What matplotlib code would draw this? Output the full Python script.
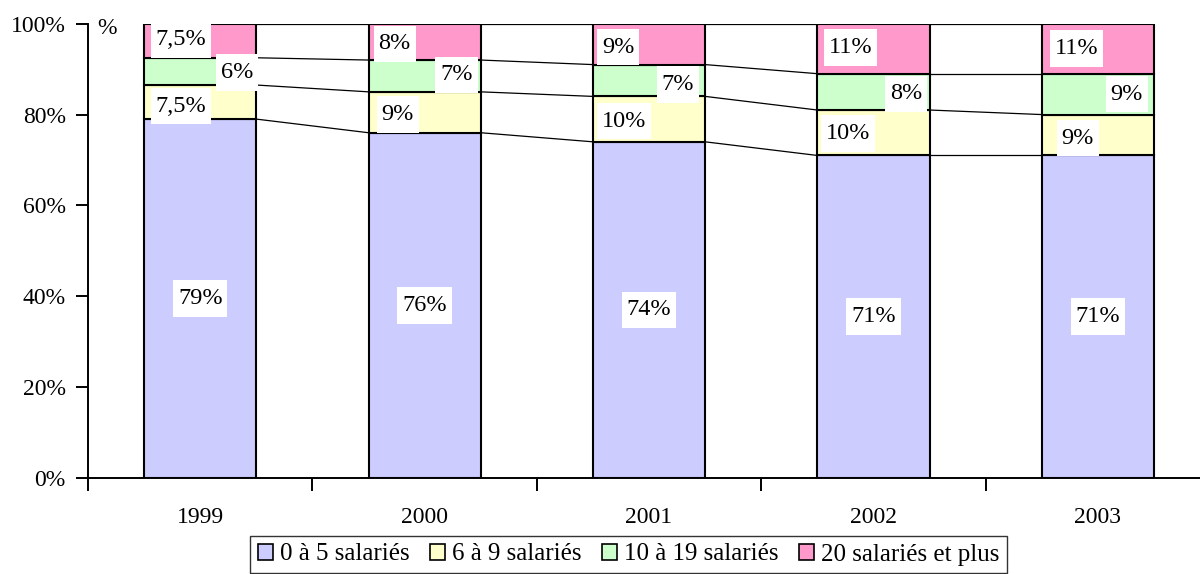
import matplotlib
matplotlib.use("Agg")
import matplotlib.pyplot as plt
from matplotlib.patches import Patch
from matplotlib.path import Path
import numpy as np

plt.rcParams['font.family'] = ['Liberation Serif', 'DejaVu Serif']

years = ["1999", "2000", "2001", "2002", "2003"]
series_names = ["0 à 5 salariés", "6 à 9 salariés", "10 à 19 salariés", "20 salariés et plus"]
s0_5 = [79, 76, 74, 71, 71]
s6_9 = [7.5, 9, 10, 10, 9]
s10_19 = [6, 7, 7, 8, 9]
s20p = [7.5, 8, 9, 11, 11]
label_texts = [
    ["79%", "76%", "74%", "71%", "71%"],
    ["7,5%", "9%", "10%", "10%", "9%"],
    ["6%", "7%", "7%", "8%", "9%"],
    ["7,5%", "8%", "9%", "11%", "11%"],
]
colors = ["#CCCCFF", "#FFFFCC", "#CCFFCC", "#FF99CC"]
# label placement offsets (pixels) relative to segment centre, as in the original layout
label_dx = [
    [0, 0, 0, 0, 0],
    [-19, -27, -25, -25, -20],
    [37, 32, 29, 33, 29],
    [-19, -30, -31, -23, -21],
]
label_dy = [
    [0, 0, 0, 0, 0],
    [-4, -2, -2, -1, -3],
    [-1, 1, -4, -2, 0],
    [1, -2, -3, 1, 0],
]

data = [s0_5, s6_9, s10_19, s20p]


def label_box(x0, y0, width, height, mutation_size):
    px = 0.2 * mutation_size
    py = 0.32 * mutation_size
    xa, ya = x0 - px, y0 - py
    xb, yb = x0 + width + px, y0 + height + py
    return Path([(xa, ya), (xb, ya), (xb, yb), (xa, yb), (xa, ya)], closed=True)


fig = plt.figure(figsize=(12, 5.74), dpi=100)
ax = fig.add_axes([88/1200, 1-478/574, (1210-88)/1200, (478-23.7)/574])

x = np.arange(len(years))
width = 0.5
bottom = np.zeros(len(years))
tops = []
for i, vals in enumerate(data):
    vals = np.array(vals, dtype=float)
    ax.bar(x, vals, width, bottom=bottom, color=colors[i], edgecolor="black",
           linewidth=1.5, zorder=2)
    for j in range(len(years)):
        ax.annotate(label_texts[i][j], xy=(x[j], bottom[j] + vals[j] / 2),
                    xytext=(label_dx[i][j], label_dy[i][j]),
                    textcoords="offset pixels",
                    ha="center", va="center", fontsize=17.5, zorder=5,
                    bbox=dict(boxstyle=label_box, fc="white", ec="none"))
    bottom = bottom + vals
    tops.append(bottom.copy())

# series lines
for t in tops:
    for j in range(len(years) - 1):
        ax.plot([x[j] + width/2, x[j+1] - width/2], [t[j], t[j+1]],
                color="black", linewidth=0.9, zorder=1)

ax.set_xlim(-0.5, 4.5)
ax.set_ylim(0, 100)
ax.set_yticks(np.arange(0, 101, 20))
ax.set_yticklabels([f"{v}%" for v in range(0, 101, 20)], fontsize=17)
ax.set_xticks(x)
ax.set_xticklabels(years, fontsize=17)
ax.set_xticks(np.arange(-0.5, 4.6, 1), minor=True)
ax.tick_params(axis="x", which="major", length=0, pad=21)
ax.tick_params(axis="x", which="minor", length=9, width=1.4, direction="out")
ax.tick_params(axis="y", which="major", length=9, width=1.4, direction="out", pad=7)
for s in ["top", "right"]:
    ax.spines[s].set_visible(False)
for s in ["left", "bottom"]:
    ax.spines[s].set_linewidth(1.4)

fig.text(97/1200, 1-28/574, "%", fontsize=17, ha="left", va="center")

handles = [Patch(facecolor=c, edgecolor="black", linewidth=1.2) for c in colors]
leg = fig.legend(handles, series_names, loc="upper left",
                 bbox_to_anchor=(250/1200, 1-536/574), ncol=4, fontsize=18,
                 frameon=True, fancybox=False, edgecolor="black",
                 handlelength=0.6, handleheight=0.6, handletextpad=0.3,
                 columnspacing=0.8, borderpad=0.3, borderaxespad=0)
leg.get_frame().set_linewidth(1.0)

fig.savefig("out.png", dpi=100)
